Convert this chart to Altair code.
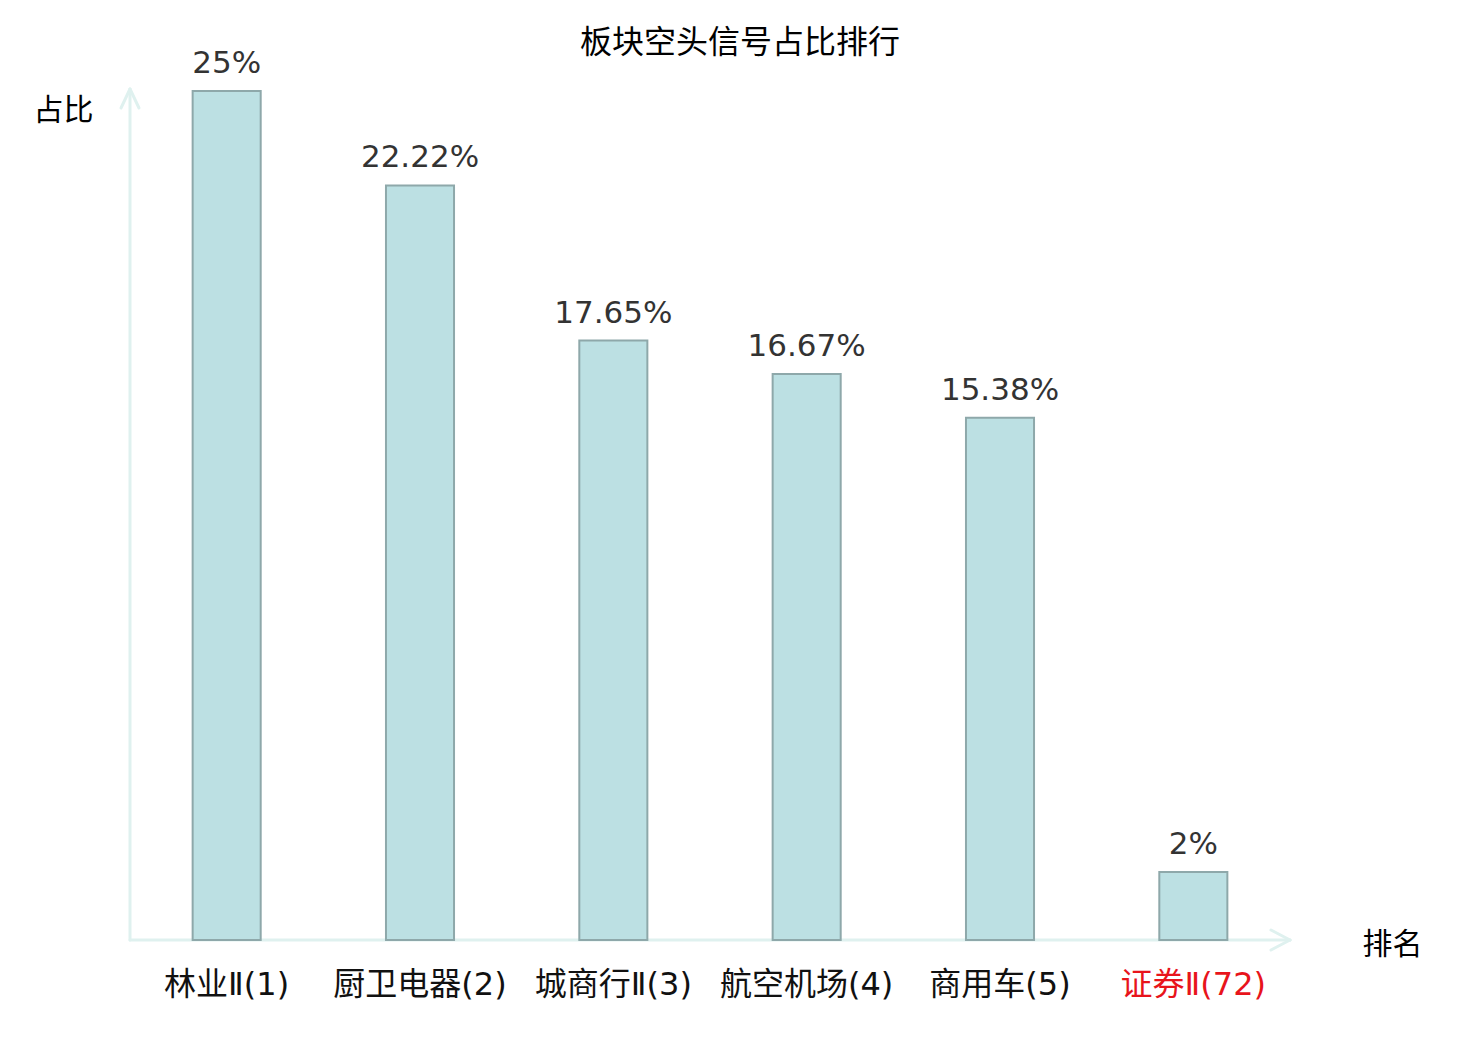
import altair as alt
import pandas as pd

categories = ["林业Ⅱ(1)", "厨卫电器(2)", "城商行Ⅱ(3)", "航空机场(4)", "商用车(5)", "证券Ⅱ(72)"]
values = [25, 22.22, 17.65, 16.67, 15.38, 2]
value_labels = ["25%", "22.22%", "17.65%", "16.67%", "15.38%", "2%"]
highlight = [False, False, False, False, False, True]
chart_title = "板块空头信号占比排行"

df = pd.DataFrame({"cat": categories, "val": values, "lab": value_labels, "hl": highlight})

FONT = "DejaVu Sans, Noto Sans CJK SC"
CJK = "Noto Sans CJK SC"
LABEL_FONT = "DejaVu Sans, Noto Sans CJK SC"
AXIS_COLOR = "#dff1ef"

W, H = 1160, 849

x_enc = alt.X(
    "cat:N",
    sort=categories,
    scale=alt.Scale(paddingInner=0.648, paddingOuter=0.324),
    axis=alt.Axis(
        title="排名",
        titleX=1262,
        titleY=4,
        titleAlign="center",
        titleBaseline="middle",
        titleFontSize=30,
        titleFontWeight="normal",
        titleFont=CJK,
        titleColor="#000000",
        labelAngle=0,
        labelFontSize=32,
        labelFont=LABEL_FONT,
        labelFontWeight={"expr": "390"},
        labelPadding=29,
        labelColor=alt.expr("datum.value == '证券Ⅱ(72)' ? '#e8141b' : '#111111'"),
        ticks=False,
        domain=False,
        grid=False,
    ),
)
y_enc = alt.Y(
    "val:Q",
    scale=alt.Scale(domain=[0, 25], nice=False, zero=True),
    axis=alt.Axis(
        title="占比",
        titleAngle=0,
        titleX=-67,
        titleY=19,
        titleAlign="center",
        titleBaseline="middle",
        titleFontSize=30,
        titleFontWeight="normal",
        titleFont=CJK,
        titleColor="#000000",
        labels=False,
        ticks=False,
        domain=False,
        grid=False,
    ),
)

bars = alt.Chart(df).mark_bar(
    fill="#bce0e3", stroke="#8ea8aa", strokeWidth=2
).encode(x=x_enc, y=y_enc)

texts = alt.Chart(df).mark_text(
    baseline="alphabetic", dy=-18, fontSize=31, font=FONT, color="#333333"
).encode(x=alt.X("cat:N", sort=categories), y="val:Q", text="lab:N")

one = pd.DataFrame({"a": [0]})
rule_style = dict(color=AXIS_COLOR, strokeWidth=3, strokeCap="round")

def seg(x1, y1, x2, y2):
    return alt.Chart(one).mark_rule(**rule_style).encode(
        x=alt.value(x1), y=alt.value(y1), x2=alt.value(x2), y2=alt.value(y2)
    )

axes = [
    seg(0, H, 0, -2),
    seg(0, -2, -9, 17),
    seg(0, -2, 9, 17),
    seg(0, H, W, H),
    seg(W, H, W - 19, H - 10),
    seg(W, H, W - 19, H + 10),
]

title_mark = alt.Chart(pd.DataFrame({"t": [chart_title]})).mark_text(
    align="center", baseline="middle", fontSize=32, font=CJK, color="#000000"
).encode(x=alt.value(W / 2 + 30), y=alt.value(-48), text="t:N")

chart = alt.layer(*axes, bars, texts, title_mark).properties(
    width=W,
    height=H,
    background="#ffffff",
    autosize=alt.AutoSizeParams(type="none"),
    padding={"left": 122, "top": 83, "right": 182, "bottom": 92},
).configure_view(strokeWidth=0, stroke="transparent")

chart.save("out.html", embed_options={"renderer": "svg", "actions": False})
